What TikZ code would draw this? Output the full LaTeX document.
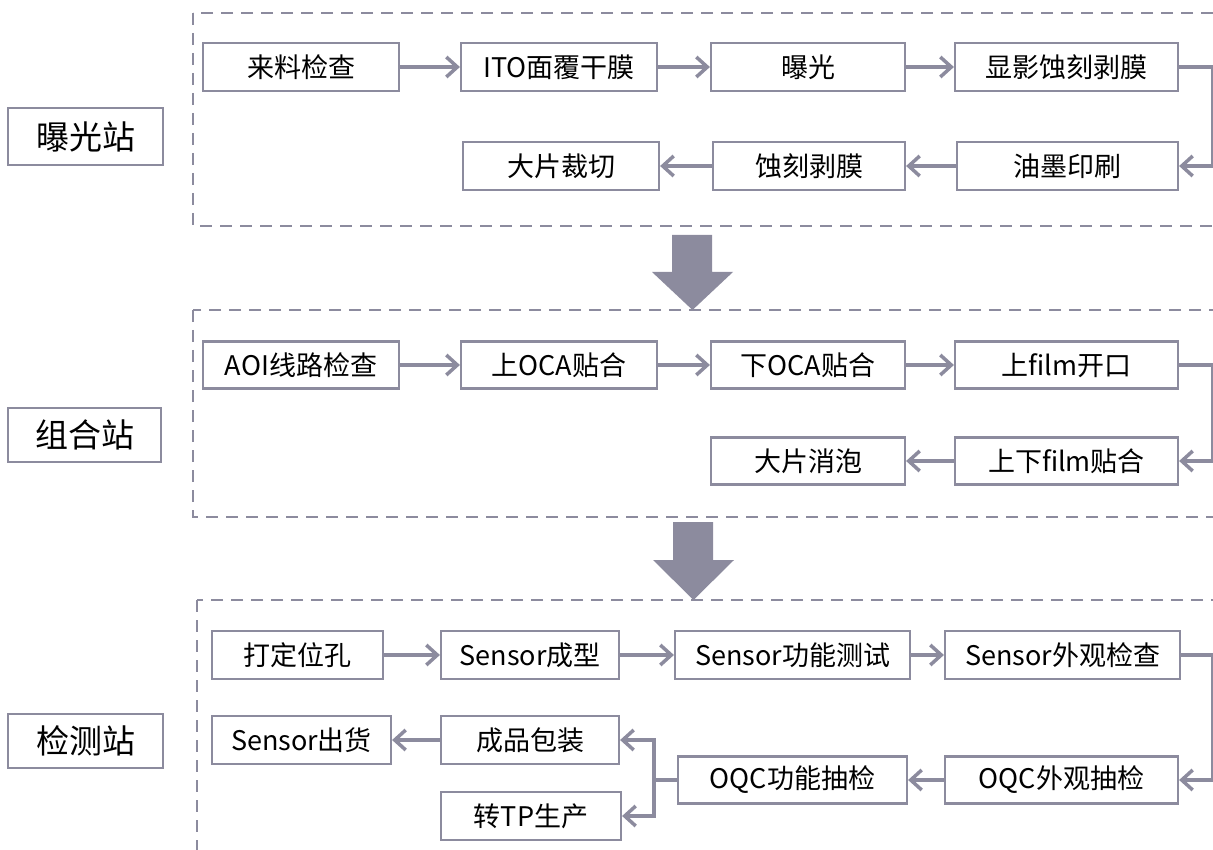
\documentclass[tikz,border=0pt]{standalone}
\usepackage{fontspec}
\setmainfont{Noto Sans CJK SC}
\usetikzlibrary{arrows.meta}
\definecolor{lc}{RGB}{140,139,158}
\begin{document}
\begin{tikzpicture}[x=1pt,y=-1pt,
  box/.style={draw=lc,line width=2.2pt,fill=white,inner sep=0pt,minimum height=48pt,font=\fontsize{27}{30}\selectfont},
  stbox/.style={draw=lc,line width=2.2pt,inner sep=0pt,font=\fontsize{33}{36}\selectfont},
  cont/.style={draw=lc,line width=2pt,dash pattern=on 12pt off 8pt},
  conn/.style={draw=lc,line width=3.5pt},
  arr/.style={conn,-{Straight Barb[length=11pt,width=20pt,line width=3.5pt]}},
  bigarr/.style={fill=lc,draw=none}]
\useasboundingbox (0,0) rectangle (1213,850);
\clip (0,0) rectangle (1213,850);
% containers
\draw[cont] (193,13) rectangle (1240,226);
\draw[cont] (193,310) rectangle (1240,517);
\draw[cont] (197,600) rectangle (1240,880);
% station labels
\node[stbox,minimum width=155pt,minimum height=57pt] (s1) at (85.5,136.5) {曝光站};
\node[stbox,minimum width=153pt,minimum height=54pt] (s2) at (84.5,435) {组合站};
\node[stbox,minimum width=155pt,minimum height=54pt] (s3) at (85.5,741) {检测站};
% big arrows
\fill[bigarr] (672,235) -- (712,235) -- (712,272) -- (733,272) -- (692.5,310) -- (652,272) -- (672,272) -- cycle;
\fill[bigarr] (673,522) -- (713,522) -- (713,560) -- (734,560) -- (693.5,600) -- (653,560) -- (673,560) -- cycle;
% top station
\node[box,minimum width=196pt] (a1) at (301,67) {来料检查};
\node[box,minimum width=196pt] (a2) at (559,67) {ITO面覆干膜};
\node[box,minimum width=194pt] (a3) at (808,67) {曝光};
\node[box,minimum width=223pt] (a4) at (1066.5,67) {显影蚀刻剥膜};
\node[box,minimum width=221pt] (a5) at (1067.5,166) {油墨印刷};
\node[box,minimum width=192pt] (a6) at (809,166) {蚀刻剥膜};
\node[box,minimum width=196pt] (a7) at (561,166) {大片裁切};
\draw[arr] (a1) -- (a2);
\draw[arr] (a2) -- (a3);
\draw[arr] (a3) -- (a4);
\draw[arr] (a4.east) -- ++(34,0) |- (a5.east);
\draw[arr] (a5) -- (a6);
\draw[arr] (a6) -- (a7);
% middle station
\node[box,minimum width=196pt,minimum height=47pt] (b1) at (301,365) {AOI线路检查};
\node[box,minimum width=196pt,minimum height=47pt] (b2) at (559,365) {上OCA贴合};
\node[box,minimum width=194pt,minimum height=47pt] (b3) at (808,365) {下OCA贴合};
\node[box,minimum width=223pt,minimum height=47pt] (b4) at (1066.5,365) {上film开口};
\node[box,minimum width=223pt,minimum height=47pt] (b5) at (1066.5,461) {上下film贴合};
\node[box,minimum width=194pt,minimum height=47pt] (b6) at (808,461) {大片消泡};
\draw[arr] (b1) -- (b2);
\draw[arr] (b2) -- (b3);
\draw[arr] (b3) -- (b4);
\draw[arr] (b4.east) -- ++(34,0) |- (b5.east);
\draw[arr] (b5) -- (b6);
% bottom station
\node[box,minimum width=171pt] (c1) at (297.5,655) {打定位孔};
\node[box,minimum width=178pt] (c2) at (530,655) {Sensor成型};
\node[box,minimum width=235pt] (c3) at (792.5,655) {Sensor功能测试};
\node[box,minimum width=235pt] (c4) at (1062.5,655) {Sensor外观检查};
\node[box,minimum width=233pt,minimum height=47pt] (c5) at (1061.5,780) {OQC外观抽检};
\node[box,minimum width=229pt,minimum height=47pt] (c6) at (792.5,780) {OQC功能抽检};
\node[box,minimum width=178pt] (c7) at (530,740) {成品包装};
\node[box,minimum width=180pt] (c8) at (531,816) {转TP生产};
\node[box,minimum width=179pt] (c9) at (301.5,740) {Sensor出货};
\draw[arr] (c1) -- (c2);
\draw[arr] (c2) -- (c3);
\draw[arr] (c3) -- (c4);
\draw[arr] (c4.east) -- ++(32,0) |- (c5.east);
\draw[arr] (c5) -- (c6);
\draw[conn] (c6.west) -- ++(-23,0) coordinate (br);
\draw[arr] (br) |- (c7.east);
\draw[arr] (br) |- (c8.east);
\draw[arr] (c7) -- (c9);
\end{tikzpicture}
\end{document}
